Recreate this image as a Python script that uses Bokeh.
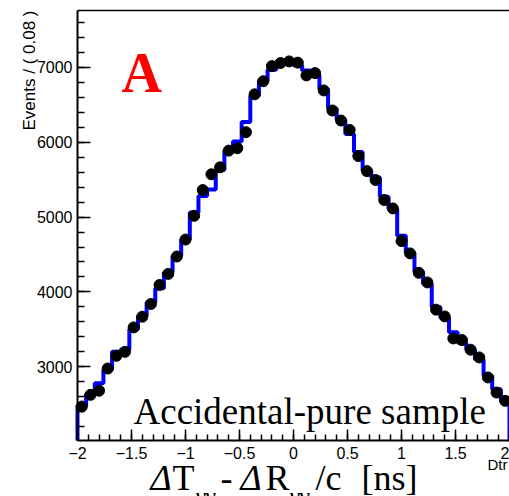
import math
from bokeh.plotting import figure
from bokeh.models import Label, Range1d, SingleIntervalTicker, FixedTicker, LinearAxis
from bokeh.embed import file_html
from bokeh.resources import INLINE

# ---------------- data ----------------
bin_centers = [-1.96, -1.88, -1.80, -1.72, -1.64, -1.56, -1.48, -1.40, -1.32, -1.24,
               -1.16, -1.08, -1.00, -0.92, -0.84, -0.76, -0.68, -0.60, -0.52, -0.44,
               -0.36, -0.28, -0.20, -0.12, -0.04, 0.04, 0.12, 0.20, 0.28, 0.36,
               0.44, 0.52, 0.60, 0.68, 0.76, 0.84, 0.92, 1.00, 1.08, 1.16,
               1.24, 1.32, 1.40, 1.48, 1.56, 1.64, 1.72, 1.80, 1.88, 1.96]
data_counts = [2469, 2625, 2680, 2977, 3147, 3200, 3526, 3669, 3839, 4093,
               4241, 4473, 4700, 5017, 5361, 5572, 5665, 5888, 5920, 6134,
               6640, 6815, 7017, 7058, 7080, 7063, 6893, 6924, 6692, 6424,
               6290, 6165, 5815, 5614, 5495, 5228, 5116, 4680, 4515, 4256,
               4127, 3763, 3673, 3379, 3357, 3228, 3125, 2857, 2656, 2545]
model_counts = [2480, 2640, 2780, 2960, 3200, 3230, 3500, 3680, 3860, 4050,
                4260, 4480, 4700, 5060, 5280, 5370, 5630, 5880, 6010, 6270,
                6620, 6820, 6970, 7060, 7070, 7030, 6960, 6900, 6710, 6450,
                6300, 6110, 5870, 5620, 5530, 5270, 5110, 4750, 4520, 4270,
                4110, 3800, 3660, 3460, 3320, 3230, 3100, 2880, 2700, 2540]
x_tick_values = [-2.0, -1.5, -1.0, -0.5, 0.0, 0.5, 1.0, 1.5, 2.0]
x_tick_labels = ["\u22122", "\u22121.5", "\u22121", "\u22120.5", "0", "0.5", "1", "1.5", "2"]
y_axis_title = "Events / ( 0.08 )"
x_axis_name = "Dtr"
panel_tag = "A"
sample_note = "Accidental-pure sample"

# ---------------- layout ----------------
X0, X1 = -2.0, 2.0          # visible histogram frame
Y0, Y1 = 2015.0, 7760.0
W, H = 509, 496
FL, FR, FT, FB = 77, 509, 10, 440   # frame box in canvas pixels
ux = (X1 - X0) / (FR - FL)
uy = (Y1 - Y0) / (FB - FT)
XS, XE = X0 - FL * ux, X1 + (W - FR) * ux
YS, YE = Y0 - (H - FB) * uy, Y1 + FT * uy
BSH = 0.36   # shift of the label anchor relative to the glyph baseline (em)


def dx(px):
    return XS + px * ux


def dy(py):
    return YE - py * uy


def label(px, py, text, size, font="Liberation Serif", style="normal", color="black"):
    # place text so that its glyph baseline lies at canvas pixel row py
    return Label(x=dx(px), y=dy(py - BSH * size), text=text, text_font=font,
                 text_font_style=style, text_font_size=f"{size}px",
                 text_baseline="alphabetic", text_color=color)


p = figure(width=W, height=H, x_range=Range1d(XS, XE), y_range=Range1d(YS, YE),
           output_backend="svg", toolbar_location=None,
           min_border=0, min_border_left=0, min_border_right=0,
           min_border_top=0, min_border_bottom=0)
if p.title is not None:
    p.title.visible = False
p.xgrid.visible = False
p.ygrid.visible = False
p.background_fill_color = "white"
p.border_fill_color = "white"
p.outline_line_color = None

# axes drawn at the frame edges
p.xaxis.fixed_location = Y0
p.xaxis.bounds = (X0, X1)
p.xaxis.ticker = SingleIntervalTicker(interval=0.5, num_minor_ticks=5)
p.xaxis.major_label_overrides = {v: s for v, s in zip(x_tick_values, x_tick_labels)}
p.yaxis.fixed_location = X0
p.yaxis.bounds = (Y0, Y1)
p.yaxis.ticker = SingleIntervalTicker(interval=1000, num_minor_ticks=5)
p.yaxis.formatter.use_scientific = False
for ax in (p.xaxis[0], p.yaxis[0]):
    ax.axis_line_color = "black"
    ax.axis_line_width = 2
    ax.major_tick_line_color = "black"
    ax.minor_tick_line_color = "black"
    ax.major_tick_line_width = 1.5
    ax.minor_tick_line_width = 1.5
    ax.major_tick_out = 0
    ax.minor_tick_out = 0
    ax.major_label_text_font = "Liberation Sans"
    ax.major_label_text_font_size = "16px"
    ax.major_label_text_color = "black"
p.xaxis.major_tick_in = 11
p.xaxis.minor_tick_in = 6
p.xaxis.major_label_standoff = 6
p.yaxis.major_tick_in = 13
p.yaxis.minor_tick_in = 7
p.yaxis.major_label_standoff = 5

# top frame line
top = LinearAxis(fixed_location=Y1, bounds=(X0, X1), ticker=FixedTicker(ticks=[]),
                 axis_line_color="black", axis_line_width=1.5,
                 major_tick_in=0, major_tick_out=0, minor_tick_in=0, minor_tick_out=0)
p.add_layout(top, "above")

# model histogram (blue step line)
half = (bin_centers[1] - bin_centers[0]) / 2
hx = [bin_centers[0] - half]
hy = [Y0]
for c, v in zip(bin_centers, model_counts):
    hx += [c - half, c + half]
    hy += [v, v]
hx.append(bin_centers[-1] + half)
hy.append(Y0)
p.line(hx, hy, line_color="#0000ff", line_width=4)

# data points
p.scatter(bin_centers, data_counts, size=11, color="black")

# texts
p.add_layout(label(121, 93, panel_tag, 56, style="bold", color="#ff0000"))
p.add_layout(label(133, 424, sample_note, 37))
p.add_layout(Label(x=dx(35 - BSH * 17), y=dy(10), text=y_axis_title, angle=math.pi / 2,
                   text_align="right", text_baseline="alphabetic",
                   text_font="Liberation Sans", text_font_size="17px", text_color="black"))
p.add_layout(label(487, 469, x_axis_name, 15, font="Liberation Sans"))

# x axis title pieces
title_parts = [
    (150, 490, "\u0394", "italic", 36),
    (172, 490, "T", "normal", 36),
    (195, 505, "\u03b3\u03b3", "italic", 25),
    (220, 490, "-", "normal", 36),
    (240, 490, "\u0394", "italic", 36),
    (265, 490, "R", "normal", 36),
    (289, 505, "\u03b3\u03b3", "italic", 25),
    (315, 490, "/c", "normal", 36),
    (361, 490, "[ns]", "normal", 36),
]
for px, py, t, style, size in title_parts:
    p.add_layout(label(px, py, t, size, style=style))

open("out.html", "w").write(file_html(p, INLINE))
